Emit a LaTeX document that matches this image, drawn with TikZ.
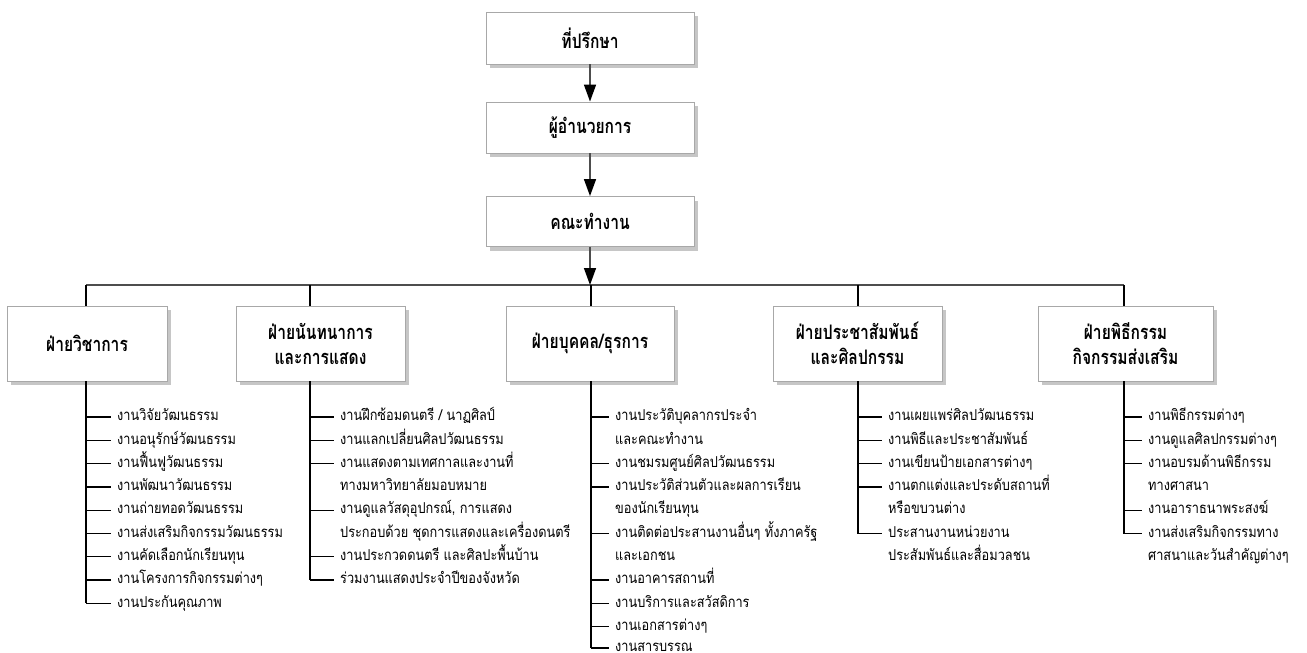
\documentclass[tikz,border=0pt]{standalone}
\usepackage{fontspec}
\usepackage{graphicx}
\newfontfamily\thaititle[Script=Thai]{Loma}
\newfontfamily\thaiitem[Script=Thai,FakeStretch=0.85]{Loma}
\usetikzlibrary{arrows.meta,shadows}
\definecolor{boxline}{HTML}{A8A8A8}
\definecolor{shadowgray}{HTML}{C6C6C6}
\definecolor{barcol}{HTML}{4D4D4D}
\newcommand\titlefont{\thaititle\bfseries\fontsize{20}{25}\selectfont}
\newcommand\itemfont{\thaiitem\fontsize{15}{16}\selectfont}
\newcommand\ttl[1]{\scalebox{0.78}[1]{#1}}
\tikzset{
  box/.style={draw=boxline, line width=0.9pt, fill=white, align=center, font=\titlefont, inner sep=0pt,
    drop shadow={shadow xshift=4pt, shadow yshift=-4pt, fill=shadowgray, opacity=1}},
  itm/.style={anchor=west, inner sep=0pt, text height=7.5pt, text depth=0pt, font=\itemfont},
  conn/.style={line width=1.3pt, draw=black},
  bar/.style={line width=2pt, draw=barcol},
  arr/.style={line width=1.5pt, draw=barcol, -{Triangle[length=17pt,width=12pt,color=black]}},
}
\begin{document}
\begin{tikzpicture}[x=1pt,y=-1pt]
\path[use as bounding box, fill=white] (0,0) rectangle (1307,653);

% top boxes
\node[box, minimum width=208pt, minimum height=52pt] (adv) at (590,38) {\ttl{ที่ปรึกษา}};
\node[box, minimum width=208pt, minimum height=51pt] (dir) at (590,127.5) {\ttl{ผู้อำนวยการ}};
\node[box, minimum width=208pt, minimum height=50pt] (team) at (590,221.5) {\ttl{คณะทำงาน}};

% bar coordinates
\coordinate (v1) at (86,285);
\coordinate (v2) at (310,285);
\coordinate (v3) at (591,285);
\coordinate (v4) at (858,285);
\coordinate (v5) at (1124,285);
\coordinate (hub) at (590,285);

% division boxes
\node[box, minimum width=160pt, minimum height=75pt] (b1) at (87,343.5) {\ttl{ฝ่ายวิชาการ}};
\node[box, minimum width=169pt, minimum height=75pt] (b2) at (320.5,343.5) {\ttl{ฝ่ายนันทนาการ}\\\ttl{และการแสดง}};
\node[box, minimum width=168pt, minimum height=75pt] (b3) at (590,343.5) {\ttl{ฝ่ายบุคคล/ธุรการ}};
\node[box, minimum width=169pt, minimum height=75pt] (b4) at (857.5,343.5) {\ttl{ฝ่ายประชาสัมพันธ์}\\\ttl{และศิลปกรรม}};
\node[box, minimum width=175pt, minimum height=75pt] (b5) at (1125.5,343.5) {\ttl{ฝ่ายพิธีกรรม}\\\ttl{กิจกรรมส่งเสริม}};

% arrows
\draw[arr] (adv.south) -- (dir.north);
\draw[arr] (dir.south) -- (team.north);
\draw[bar] (v1) -- (v5);
\draw[arr] (team.south) -- (hub);
\foreach \k in {1,...,5} \draw[conn] (v\k) -- (b\k.north -| v\k);

% column 1
\node[itm] (a0) at (117,417.0) {งานวิจัยวัฒนธรรม};
\node[itm] (a1) at (117,440.3) {งานอนุรักษ์วัฒนธรรม};
\node[itm] (a2) at (117,463.6) {งานฟื้นฟูวัฒนธรรม};
\node[itm] (a3) at (117,486.9) {งานพัฒนาวัฒนธรรม};
\node[itm] (a4) at (117,510.2) {งานถ่ายทอดวัฒนธรรม};
\node[itm] (a5) at (117,533.5) {งานส่งเสริมกิจกรรมวัฒนธรรม};
\node[itm] (a6) at (117,556.8) {งานคัดเลือกนักเรียนทุน};
\node[itm] (a7) at (117,580.1) {งานโครงการกิจกรรมต่างๆ};
\node[itm] (a8) at (117,603.4) {งานประกันคุณภาพ};
\draw[conn] (b1.south -| v1) -- (a8.west -| v1);
\foreach \i in {0,...,8} \draw[conn] (a\i.west -| v1) -- ([xshift=-6pt]a\i.west);

% column 2
\node[itm] (c0) at (340,417.0) {งานฝึกซ้อมดนตรี / นาฏศิลป์};
\node[itm] (c1) at (340,440.3) {งานแลกเปลี่ยนศิลปวัฒนธรรม};
\node[itm] (c2) at (340,463.6) {งานแสดงตามเทศกาลและงานที่};
\node[itm] (c3) at (340,486.9) {ทางมหาวิทยาลัยมอบหมาย};
\node[itm] (c4) at (340,510.2) {งานดูแลวัสดุอุปกรณ์, การแสดง};
\node[itm] (c5) at (340,533.5) {ประกอบด้วย ชุดการแสดงและเครื่องดนตรี};
\node[itm] (c6) at (340,556.8) {งานประกวดดนตรี และศิลปะพื้นบ้าน};
\node[itm] (c7) at (340,580.1) {ร่วมงานแสดงประจำปีของจังหวัด};
\draw[conn] (b2.south -| v2) -- (c7.west -| v2);
\foreach \i in {0,1,2,4,6,7} \draw[conn] (c\i.west -| v2) -- ([xshift=-6pt]c\i.west);

% column 3
\node[itm] (d0) at (615,417.0) {งานประวัติบุคลากรประจำ};
\node[itm] (d1) at (615,440.3) {และคณะทำงาน};
\node[itm] (d2) at (615,463.6) {งานชมรมศูนย์ศิลปวัฒนธรรม};
\node[itm] (d3) at (615,486.9) {งานประวัติส่วนตัวและผลการเรียน};
\node[itm] (d4) at (615,510.2) {ของนักเรียนทุน};
\node[itm] (d5) at (615,533.5) {งานติดต่อประสานงานอื่นๆ ทั้งภาครัฐ};
\node[itm] (d6) at (615,556.8) {และเอกชน};
\node[itm] (d7) at (615,580.1) {งานอาคารสถานที่};
\node[itm] (d8) at (615,603.4) {งานบริการและสวัสดิการ};
\node[itm] (d9) at (615,626.7) {งานเอกสารต่างๆ};
\node[itm] (d10) at (615,648.0) {งานสารบรรณ};
\draw[conn] (b3.south -| v3) -- (d10.west -| v3);
\foreach \i in {0,2,3,5,7,8,9,10} \draw[conn] (d\i.west -| v3) -- ([xshift=-6pt]d\i.west);

% column 4
\node[itm] (e0) at (888,417.0) {งานเผยแพร่ศิลปวัฒนธรรม};
\node[itm] (e1) at (888,440.3) {งานพิธีและประชาสัมพันธ์};
\node[itm] (e2) at (888,463.6) {งานเขียนป้ายเอกสารต่างๆ};
\node[itm] (e3) at (888,486.9) {งานตกแต่งและประดับสถานที่};
\node[itm] (e4) at (888,510.2) {หรือขบวนต่าง};
\node[itm] (e5) at (888,533.5) {ประสานงานหน่วยงาน};
\node[itm] (e6) at (888,556.8) {ประสัมพันธ์และสื่อมวลชน};
\draw[conn] (b4.south -| v4) -- (e5.west -| v4);
\foreach \i in {0,1,2,3,5} \draw[conn] (e\i.west -| v4) -- ([xshift=-6pt]e\i.west);

% column 5
\node[itm] (f0) at (1148,417.0) {งานพิธีกรรมต่างๆ};
\node[itm] (f1) at (1148,440.3) {งานดูแลศิลปกรรมต่างๆ};
\node[itm] (f2) at (1148,463.6) {งานอบรมด้านพิธีกรรม};
\node[itm] (f3) at (1148,486.9) {ทางศาสนา};
\node[itm] (f4) at (1148,510.2) {งานอาราธนาพระสงฆ์};
\node[itm] (f5) at (1148,533.5) {งานส่งเสริมกิจกรรมทาง};
\node[itm] (f6) at (1148,556.8) {ศาสนาและวันสำคัญต่างๆ};
\draw[conn] (b5.south -| v5) -- (f5.west -| v5);
\foreach \i in {0,1,2,4,5} \draw[conn] (f\i.west -| v5) -- ([xshift=-6pt]f\i.west);
\end{tikzpicture}
\end{document}
